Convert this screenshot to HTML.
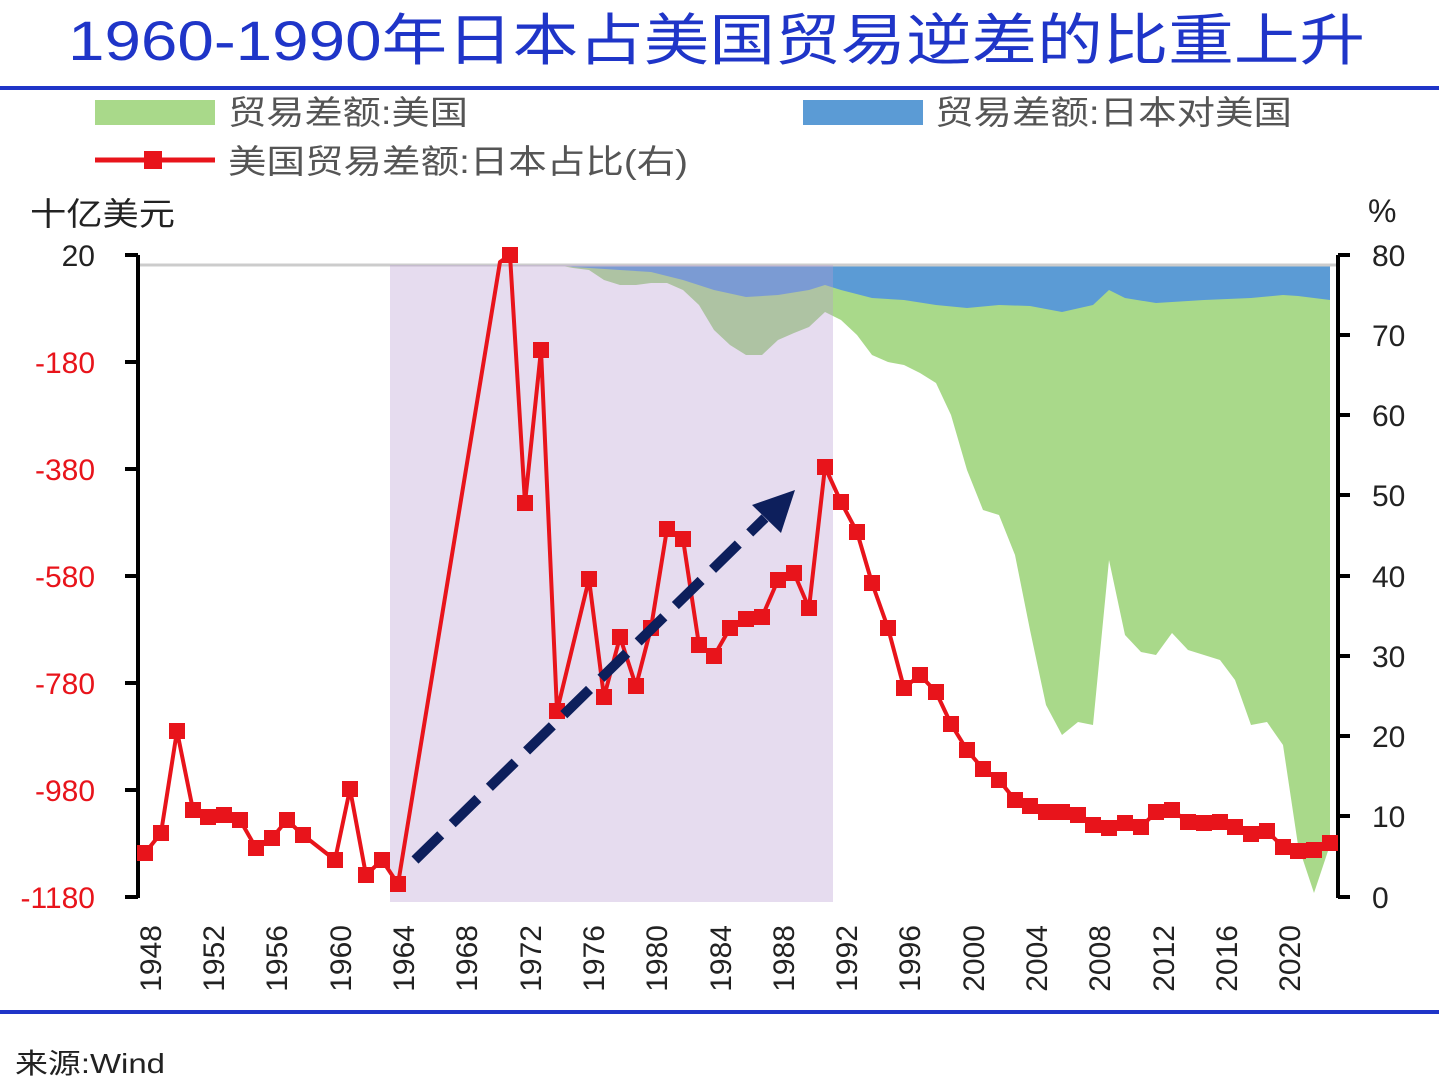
<!DOCTYPE html>
<html><head><meta charset="utf-8"><style>
body{margin:0;background:#fff;}
svg{display:block;font-family:"Liberation Sans","Noto Sans CJK SC",sans-serif;}
</style></head><body>
<svg width="1439" height="1084" viewBox="0 0 1439 1084" xmlns="http://www.w3.org/2000/svg">
<text x="68" y="60" font-size="56" fill="#1f35c8" textLength="1297" lengthAdjust="spacingAndGlyphs">1960-1990年日本占美国贸易逆差的比重上升</text>
<rect x="0" y="86" width="1439" height="4" fill="#1f35c8"/>
<rect x="0" y="1010" width="1439" height="4" fill="#1f35c8"/>
<!-- legend -->
<rect x="95" y="100" width="120" height="25" fill="#a9d98a"/>
<text x="228" y="124" font-size="33" fill="#555" textLength="240" lengthAdjust="spacingAndGlyphs">贸易差额:美国</text>
<rect x="803" y="100" width="120" height="25" fill="#5b9bd5"/>
<text x="935" y="124" font-size="33" fill="#555" textLength="357" lengthAdjust="spacingAndGlyphs">贸易差额:日本对美国</text>
<line x1="95" y1="160" x2="215" y2="160" stroke="#e8141b" stroke-width="5"/>
<rect x="144" y="151" width="18" height="18" fill="#e8141b"/>
<text x="228" y="173" font-size="33" fill="#555" textLength="460" lengthAdjust="spacingAndGlyphs">美国贸易差额:日本占比(右)</text>
<text x="30" y="225" font-size="32" fill="#222" textLength="145" lengthAdjust="spacingAndGlyphs">十亿美元</text>
<text x="1368" y="222" font-size="32" fill="#222">%</text>
<!-- areas -->
<polygon fill="#a9d98a" points="137,265 557,265 573,268 589,270 604,280 620,285 636,285 651,283 667,283 683,290 699,305 714,330 730,345 746,355 762,355 778,340 794,333 809,327 825,312 841,320 857,335 872,355 888,362 904,365 920,373 936,383 951,415 967,470 983,510 999,515 1015,555 1030,630 1046,705 1062,735 1078,722 1093,725 1109,560 1125,635 1141,652 1156,655 1172,633 1188,650 1204,655 1220,660 1235,680 1251,725 1267,722 1283,745 1298,845 1314,893 1330,845 1330,265"/>
<polygon fill="#5b9bd5" points="557,265 573,267 589,268 620,270 651,272 683,280 714,290 746,297 778,295 809,290 825,285 841,290 872,298 904,300 936,305 967,308 999,305 1030,306 1062,312 1093,305 1109,290 1125,298 1156,303 1204,300 1251,298 1283,295 1298,296 1330,300 1330,265"/>
<line x1="137" y1="265" x2="1338" y2="265" stroke="#ccc" stroke-width="3"/>
<rect x="390" y="265" width="443" height="637" fill="#b89ad0" opacity="0.35"/>
<!-- axes -->
<line x1="138" y1="255" x2="138" y2="898" stroke="#000" stroke-width="4"/>
<line x1="1338" y1="255" x2="1338" y2="898" stroke="#000" stroke-width="4"/>
<g stroke="#000" stroke-width="4">
<line x1="125" y1="255" x2="138" y2="255"/><line x1="125" y1="362" x2="138" y2="362"/><line x1="125" y1="469" x2="138" y2="469"/><line x1="125" y1="576" x2="138" y2="576"/><line x1="125" y1="683" x2="138" y2="683"/><line x1="125" y1="790" x2="138" y2="790"/><line x1="125" y1="897" x2="138" y2="897"/>
<line x1="1338" y1="255" x2="1350" y2="255"/><line x1="1338" y1="335" x2="1350" y2="335"/><line x1="1338" y1="415" x2="1350" y2="415"/><line x1="1338" y1="495" x2="1350" y2="495"/><line x1="1338" y1="576" x2="1350" y2="576"/><line x1="1338" y1="656" x2="1350" y2="656"/><line x1="1338" y1="736" x2="1350" y2="736"/><line x1="1338" y1="816" x2="1350" y2="816"/><line x1="1338" y1="897" x2="1350" y2="897"/>
</g>
<g font-size="30" text-anchor="end">
<text x="95" y="266" fill="#222">20</text>
<text x="95" y="373" fill="#e8141b">-180</text>
<text x="95" y="480" fill="#e8141b">-380</text>
<text x="95" y="587" fill="#e8141b">-580</text>
<text x="95" y="694" fill="#e8141b">-780</text>
<text x="95" y="801" fill="#e8141b">-980</text>
<text x="95" y="908" fill="#e8141b">-1180</text>
</g>
<g font-size="30" fill="#222">
<text x="1372" y="266">80</text><text x="1372" y="346">70</text><text x="1372" y="426">60</text><text x="1372" y="506">50</text><text x="1372" y="587">40</text><text x="1372" y="667">30</text><text x="1372" y="747">20</text><text x="1372" y="827">10</text><text x="1372" y="908">0</text>
</g>
<g font-size="30" fill="#222" text-anchor="end">
<text transform="translate(161,925) rotate(-90)">1948</text>
<text transform="translate(224,925) rotate(-90)">1952</text>
<text transform="translate(287,925) rotate(-90)">1956</text>
<text transform="translate(351,925) rotate(-90)">1960</text>
<text transform="translate(414,925) rotate(-90)">1964</text>
<text transform="translate(477,925) rotate(-90)">1968</text>
<text transform="translate(541,925) rotate(-90)">1972</text>
<text transform="translate(604,925) rotate(-90)">1976</text>
<text transform="translate(667,925) rotate(-90)">1980</text>
<text transform="translate(731,925) rotate(-90)">1984</text>
<text transform="translate(794,925) rotate(-90)">1988</text>
<text transform="translate(857,925) rotate(-90)">1992</text>
<text transform="translate(920,925) rotate(-90)">1996</text>
<text transform="translate(984,925) rotate(-90)">2000</text>
<text transform="translate(1047,925) rotate(-90)">2004</text>
<text transform="translate(1110,925) rotate(-90)">2008</text>
<text transform="translate(1174,925) rotate(-90)">2012</text>
<text transform="translate(1237,925) rotate(-90)">2016</text>
<text transform="translate(1300,925) rotate(-90)">2020</text>
</g>
<!-- red series -->
<polyline fill="none" stroke="#e8141b" stroke-width="4" stroke-linejoin="round" points="145,853 161,833 177,731 193,810 208,817 224,815 240,820 256,848 272,838 287,820 303,835 335,860 350,789 366,875 382,860 398,884 500,262 510,255 525,503 541,350 557,711 589,579 604,697 620,637 636,686 651,628 667,529 683,539 699,645 714,656 730,628 746,619 762,617 778,580 794,573 809,608 825,467 841,502 857,532 872,583 888,628 904,688 920,675 936,692 951,724 967,750 983,769 999,780 1015,800 1030,806 1046,812 1062,812 1078,815 1093,825 1109,828 1125,823 1141,827 1156,812 1172,810 1188,822 1204,823 1220,822 1235,827 1251,834 1267,831 1283,847 1298,851 1314,850 1330,843"/>
<g fill="#e8141b">
<rect x="137" y="845" width="16" height="16"/><rect x="153" y="825" width="16" height="16"/><rect x="169" y="723" width="16" height="16"/><rect x="185" y="802" width="16" height="16"/><rect x="200" y="809" width="16" height="16"/><rect x="216" y="807" width="16" height="16"/><rect x="232" y="812" width="16" height="16"/><rect x="248" y="840" width="16" height="16"/><rect x="264" y="830" width="16" height="16"/><rect x="279" y="812" width="16" height="16"/><rect x="295" y="827" width="16" height="16"/><rect x="327" y="852" width="16" height="16"/><rect x="342" y="781" width="16" height="16"/><rect x="358" y="867" width="16" height="16"/><rect x="374" y="852" width="16" height="16"/><rect x="390" y="876" width="16" height="16"/><rect x="502" y="247" width="16" height="16"/><rect x="517" y="495" width="16" height="16"/><rect x="533" y="342" width="16" height="16"/><rect x="549" y="703" width="16" height="16"/><rect x="581" y="571" width="16" height="16"/><rect x="596" y="689" width="16" height="16"/><rect x="612" y="629" width="16" height="16"/><rect x="628" y="678" width="16" height="16"/><rect x="643" y="620" width="16" height="16"/><rect x="659" y="521" width="16" height="16"/><rect x="675" y="531" width="16" height="16"/><rect x="691" y="637" width="16" height="16"/><rect x="706" y="648" width="16" height="16"/><rect x="722" y="620" width="16" height="16"/><rect x="738" y="611" width="16" height="16"/><rect x="754" y="609" width="16" height="16"/><rect x="770" y="572" width="16" height="16"/><rect x="786" y="565" width="16" height="16"/><rect x="801" y="600" width="16" height="16"/><rect x="817" y="459" width="16" height="16"/><rect x="833" y="494" width="16" height="16"/><rect x="849" y="524" width="16" height="16"/><rect x="864" y="575" width="16" height="16"/><rect x="880" y="620" width="16" height="16"/><rect x="896" y="680" width="16" height="16"/><rect x="912" y="667" width="16" height="16"/><rect x="928" y="684" width="16" height="16"/><rect x="943" y="716" width="16" height="16"/><rect x="959" y="742" width="16" height="16"/><rect x="975" y="761" width="16" height="16"/><rect x="991" y="772" width="16" height="16"/><rect x="1007" y="792" width="16" height="16"/><rect x="1022" y="798" width="16" height="16"/><rect x="1038" y="804" width="16" height="16"/><rect x="1054" y="804" width="16" height="16"/><rect x="1070" y="807" width="16" height="16"/><rect x="1085" y="817" width="16" height="16"/><rect x="1101" y="820" width="16" height="16"/><rect x="1117" y="815" width="16" height="16"/><rect x="1133" y="819" width="16" height="16"/><rect x="1148" y="804" width="16" height="16"/><rect x="1164" y="802" width="16" height="16"/><rect x="1180" y="814" width="16" height="16"/><rect x="1196" y="815" width="16" height="16"/><rect x="1212" y="814" width="16" height="16"/><rect x="1227" y="819" width="16" height="16"/><rect x="1243" y="826" width="16" height="16"/><rect x="1259" y="823" width="16" height="16"/><rect x="1275" y="839" width="16" height="16"/><rect x="1290" y="843" width="16" height="16"/><rect x="1306" y="842" width="16" height="16"/><rect x="1322" y="835" width="16" height="16"/>
</g>
<!-- arrow -->
<line x1="415" y1="860" x2="765" y2="518" stroke="#0d1f5c" stroke-width="10" stroke-dasharray="36,16"/>
<polygon points="795,490 752,505 781,533" fill="#0d1f5c"/>
<text x="15" y="1073" font-size="28" fill="#222" textLength="150" lengthAdjust="spacingAndGlyphs">来源:Wind</text>
</svg>
</body></html>
